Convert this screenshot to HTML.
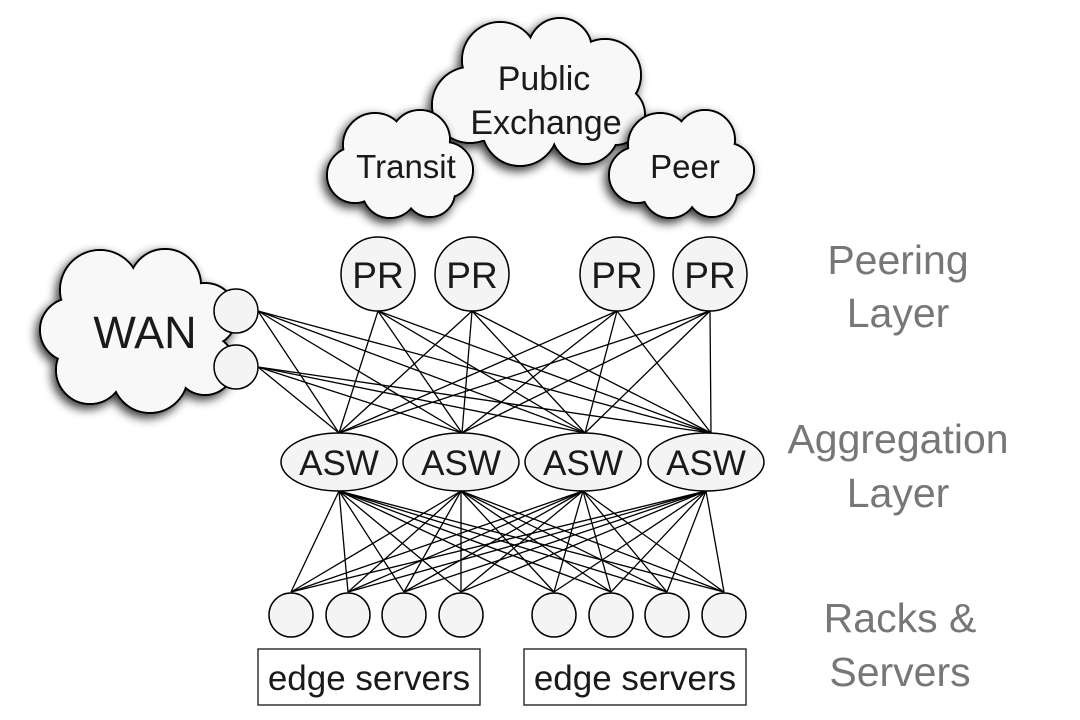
<!DOCTYPE html>
<html><head><meta charset="utf-8"><style>
html,body{margin:0;padding:0;background:#fff;width:1080px;height:720px;overflow:hidden}
text{font-family:"Liberation Sans",sans-serif;}
</style></head><body>
<svg width="1080" height="720" viewBox="0 0 1080 720" xmlns="http://www.w3.org/2000/svg">
<defs>
<filter id="sh" x="-20%" y="-20%" width="140%" height="140%">
<feGaussianBlur in="SourceAlpha" stdDeviation="5"/>
<feOffset dx="-3" dy="4"/>
<feComponentTransfer><feFuncA type="linear" slope="0.8"/></feComponentTransfer>
<feMerge><feMergeNode/><feMergeNode in="SourceGraphic"/></feMerge>
</filter>
</defs>

<g filter="url(#sh)">
<g stroke="#000" stroke-width="2" fill="#f8f8f8">
<circle cx="500" cy="60" r="38"/><circle cx="560" cy="50" r="32"/><circle cx="605" cy="75" r="36"/>
<circle cx="470" cy="105" r="38"/><circle cx="615" cy="115" r="30"/><circle cx="520" cy="128" r="38"/><circle cx="585" cy="130" r="34"/>
</g>
<g fill="#f8f8f8">
<circle cx="500" cy="60" r="37"/><circle cx="560" cy="50" r="31"/><circle cx="605" cy="75" r="35"/>
<circle cx="470" cy="105" r="37"/><circle cx="615" cy="115" r="29"/><circle cx="520" cy="128" r="37"/><circle cx="585" cy="130" r="33"/>
<rect x="470" y="60" width="140" height="80"/>
</g>
</g>
<g filter="url(#sh)">
<g stroke="#000" stroke-width="2" fill="#f8f8f8">
<circle cx="375" cy="145" r="32"/><circle cx="420" cy="140" r="30"/><circle cx="355" cy="175" r="28"/><circle cx="445" cy="170" r="28"/>
<circle cx="390" cy="190" r="28"/><circle cx="430" cy="192" r="25"/>
</g>
<g fill="#f8f8f8">
<circle cx="375" cy="145" r="31"/><circle cx="420" cy="140" r="29"/><circle cx="355" cy="175" r="27"/><circle cx="445" cy="170" r="27"/>
<circle cx="390" cy="190" r="27"/><circle cx="430" cy="192" r="24"/><rect x="355" y="145" width="90" height="45"/>
</g>
</g>
<g filter="url(#sh)">
<g stroke="#000" stroke-width="2" fill="#f8f8f8">
<circle cx="660" cy="145" r="32"/><circle cx="705" cy="140" r="30"/><circle cx="637" cy="175" r="28"/><circle cx="727" cy="170" r="27"/>
<circle cx="670" cy="190" r="28"/><circle cx="712" cy="192" r="25"/>
</g>
<g fill="#f8f8f8">
<circle cx="660" cy="145" r="31"/><circle cx="705" cy="140" r="29"/><circle cx="637" cy="175" r="27"/><circle cx="727" cy="170" r="26"/>
<circle cx="670" cy="190" r="27"/><circle cx="712" cy="192" r="24"/><rect x="637" y="145" width="90" height="45"/>
</g>
</g>
<g filter="url(#sh)">
<g stroke="#000" stroke-width="2" fill="#f8f8f8">
<circle cx="100" cy="290" r="40"/><circle cx="165" cy="285" r="36"/><circle cx="205" cy="315" r="32"/>
<circle cx="72" cy="330" r="32"/><circle cx="90" cy="370" r="34"/><circle cx="150" cy="375" r="38"/><circle cx="205" cy="365" r="30"/>
</g>
<g fill="#f8f8f8">
<circle cx="100" cy="290" r="39"/><circle cx="165" cy="285" r="35"/><circle cx="205" cy="315" r="31"/>
<circle cx="72" cy="330" r="31"/><circle cx="90" cy="370" r="33"/><circle cx="150" cy="375" r="37"/><circle cx="205" cy="365" r="29"/>
<rect x="72" y="290" width="135" height="85"/>
</g>
</g>

<g text-anchor="middle" fill="#1a1a1a">
<text x="544" y="90" font-size="34">Public</text>
<text x="546" y="134" font-size="34">Exchange</text>
<text x="406" y="178" font-size="33">Transit</text>
<text x="685" y="178" font-size="33">Peer</text>
<text x="145" y="348" font-size="45">WAN</text>
</g>

<g stroke="#000" stroke-width="1.3">
<line x1="378" y1="311" x2="339" y2="433"/><line x1="378" y1="311" x2="462" y2="433"/><line x1="378" y1="311" x2="585" y2="433"/><line x1="378" y1="311" x2="711" y2="433"/>
<line x1="472" y1="311" x2="339" y2="433"/><line x1="472" y1="311" x2="462" y2="433"/><line x1="472" y1="311" x2="585" y2="433"/><line x1="472" y1="311" x2="711" y2="433"/>
<line x1="617" y1="311" x2="339" y2="433"/><line x1="617" y1="311" x2="462" y2="433"/><line x1="617" y1="311" x2="585" y2="433"/><line x1="617" y1="311" x2="711" y2="433"/>
<line x1="710" y1="311" x2="339" y2="433"/><line x1="710" y1="311" x2="462" y2="433"/><line x1="710" y1="311" x2="585" y2="433"/><line x1="710" y1="311" x2="711" y2="433"/>
<line x1="258" y1="311" x2="339" y2="433"/><line x1="258" y1="311" x2="462" y2="433"/><line x1="258" y1="311" x2="585" y2="433"/><line x1="258" y1="311" x2="711" y2="433"/>
<line x1="258" y1="367" x2="339" y2="433"/><line x1="258" y1="367" x2="462" y2="433"/><line x1="258" y1="367" x2="585" y2="433"/><line x1="258" y1="367" x2="711" y2="433"/>
<line x1="339" y1="491" x2="291" y2="592"/><line x1="339" y1="491" x2="348" y2="592"/><line x1="339" y1="491" x2="404" y2="592"/><line x1="339" y1="491" x2="461" y2="592"/><line x1="339" y1="491" x2="554" y2="592"/><line x1="339" y1="491" x2="611" y2="592"/><line x1="339" y1="491" x2="667" y2="592"/><line x1="339" y1="491" x2="724" y2="592"/>
<line x1="461" y1="491" x2="291" y2="592"/><line x1="461" y1="491" x2="348" y2="592"/><line x1="461" y1="491" x2="404" y2="592"/><line x1="461" y1="491" x2="461" y2="592"/><line x1="461" y1="491" x2="554" y2="592"/><line x1="461" y1="491" x2="611" y2="592"/><line x1="461" y1="491" x2="667" y2="592"/><line x1="461" y1="491" x2="724" y2="592"/>
<line x1="583" y1="491" x2="291" y2="592"/><line x1="583" y1="491" x2="348" y2="592"/><line x1="583" y1="491" x2="404" y2="592"/><line x1="583" y1="491" x2="461" y2="592"/><line x1="583" y1="491" x2="554" y2="592"/><line x1="583" y1="491" x2="611" y2="592"/><line x1="583" y1="491" x2="667" y2="592"/><line x1="583" y1="491" x2="724" y2="592"/>
<line x1="706" y1="491" x2="291" y2="592"/><line x1="706" y1="491" x2="348" y2="592"/><line x1="706" y1="491" x2="404" y2="592"/><line x1="706" y1="491" x2="461" y2="592"/><line x1="706" y1="491" x2="554" y2="592"/><line x1="706" y1="491" x2="611" y2="592"/><line x1="706" y1="491" x2="667" y2="592"/><line x1="706" y1="491" x2="724" y2="592"/>
</g>

<g stroke="#000" stroke-width="1.5" fill="#f4f4f4">
<circle cx="236" cy="311" r="22"/><circle cx="236" cy="367" r="22"/>
<ellipse cx="378" cy="274" rx="37" ry="37"/><ellipse cx="472" cy="274" rx="37" ry="37"/>
<ellipse cx="617" cy="274" rx="37" ry="37"/><ellipse cx="710" cy="274" rx="37" ry="37"/>
<ellipse cx="339" cy="462" rx="58" ry="29"/><ellipse cx="461" cy="462" rx="58" ry="29"/>
<ellipse cx="583" cy="462" rx="58" ry="29"/><ellipse cx="706" cy="462" rx="58" ry="29"/>
<circle cx="291" cy="615" r="22"/><circle cx="348" cy="615" r="22"/><circle cx="404" cy="615" r="22"/><circle cx="461" cy="615" r="22"/>
<circle cx="554" cy="615" r="22"/><circle cx="611" cy="615" r="22"/><circle cx="667" cy="615" r="22"/><circle cx="724" cy="615" r="22"/>
</g>
<g fill="none" stroke="#333" stroke-width="1.5">
<rect x="258" y="649" width="222" height="56"/><rect x="524" y="649" width="222" height="56"/>
</g>

<g text-anchor="middle" fill="#1a1a1a">
<g font-size="37">
<text x="378" y="288">PR</text><text x="472" y="288">PR</text><text x="617" y="288">PR</text><text x="710" y="288">PR</text>
</g>
<g font-size="35">
<text x="339" y="475">ASW</text><text x="461" y="475">ASW</text><text x="583" y="475">ASW</text><text x="706" y="475">ASW</text>
<text x="369" y="690">edge servers</text><text x="635" y="690">edge servers</text>
</g>
</g>

<g font-size="41" text-anchor="middle" fill="#777">
<text x="898" y="274">Peering</text>
<text x="898" y="327">Layer</text>
<text x="898" y="453">Aggregation</text>
<text x="898" y="507">Layer</text>
<text x="900" y="632">Racks &amp;</text>
<text x="900" y="686">Servers</text>
</g>
</svg>
</body></html>
